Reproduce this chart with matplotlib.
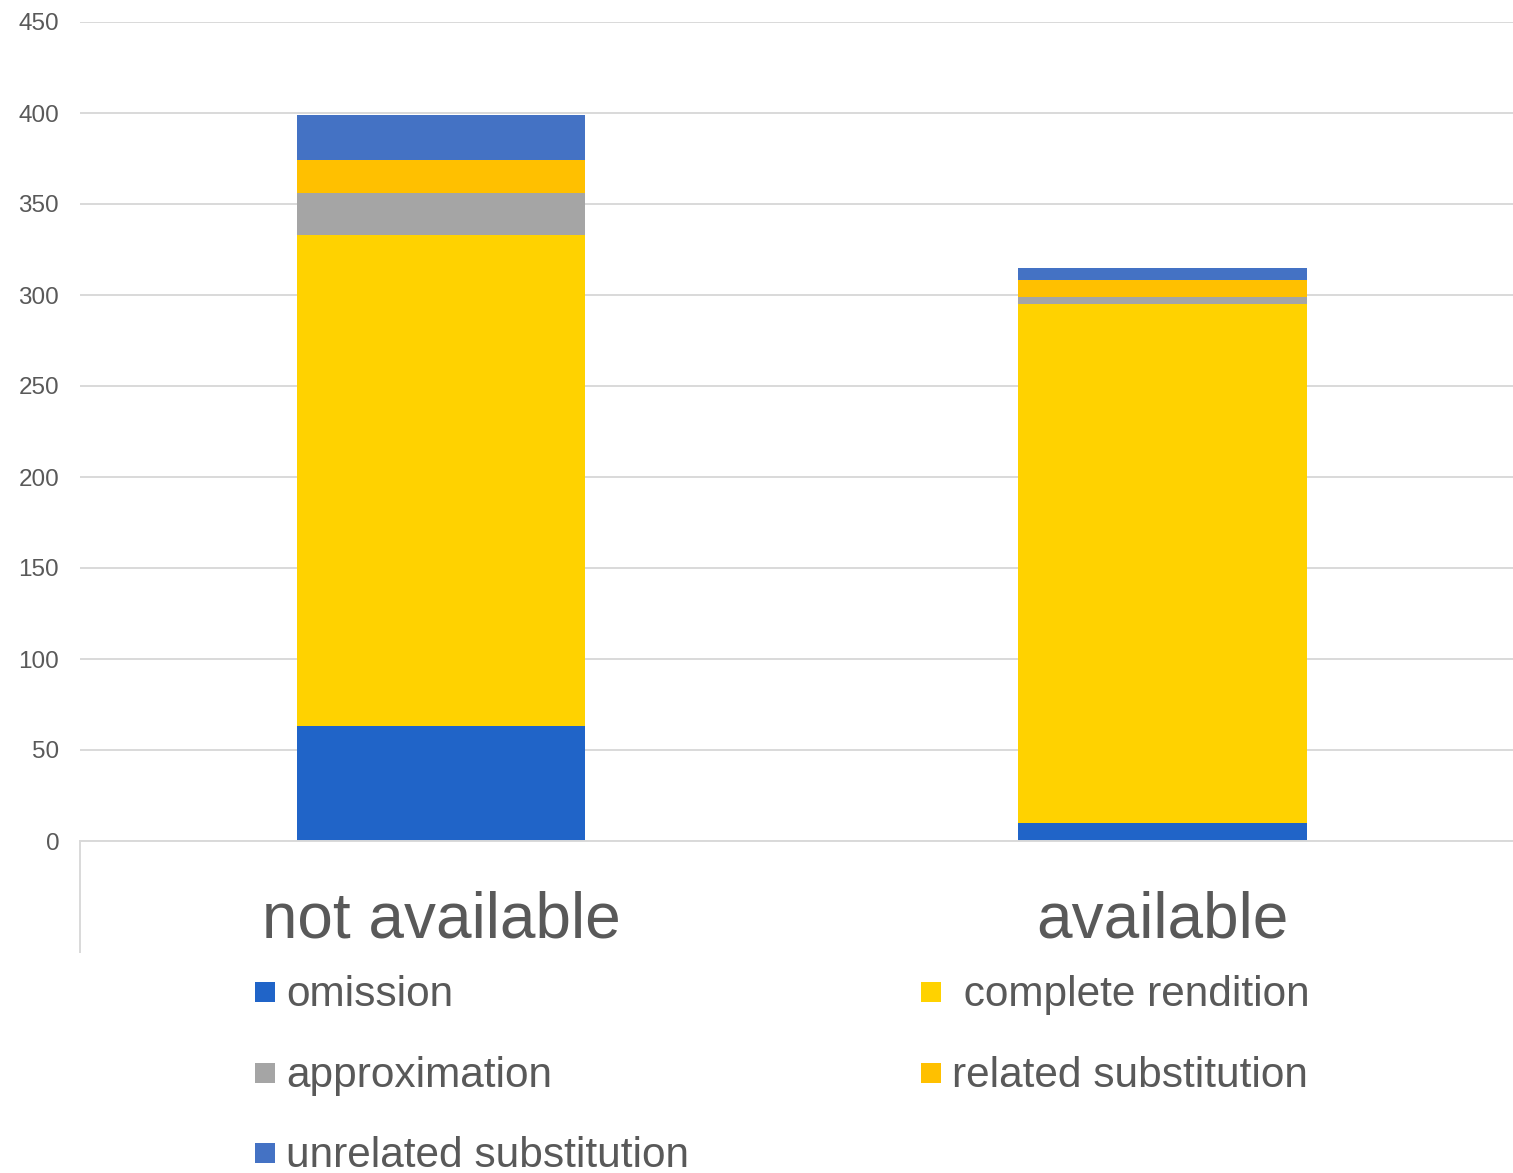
import matplotlib
matplotlib.use("Agg")
import matplotlib.pyplot as plt
from matplotlib.patches import Rectangle
import numpy as np

plt.rcParams['font.family'] = ['Liberation Sans', 'DejaVu Sans']

categories = ["not available", "available"]
series_names = ["omission", "complete rendition", "approximation",
                "related substitution", "unrelated substitution"]
omission = [63, 10]
complete_rendition = [270, 285]
approximation = [23, 4]
related_substitution = [18, 9]
unrelated_substitution = [25, 7]
y_ticks = [0, 50, 100, 150, 200, 250, 300, 350, 400, 450]

colors = ["#2064C8", "#FFD200", "#A5A5A5", "#FFC000", "#4472C4"]
text_color = "#595959"
grid_color = "#D9D9D9"

W, H = 1513, 1173
fig = plt.figure(figsize=(W / 100, H / 100), dpi=100)

def px_box(x0, y0, x1, y1):
    return [x0 / W, 1 - y1 / H, (x1 - x0) / W, (y1 - y0) / H]

ax = fig.add_axes(px_box(80, 22, 1513, 841))

x = np.arange(len(categories))
stack = [omission, complete_rendition, approximation,
         related_substitution, unrelated_substitution]
bottom = np.zeros(len(categories))
for vals, c, name in zip(stack, colors, series_names):
    ax.bar(x, vals, width=0.4, bottom=bottom, color=c, label=name, zorder=3)
    bottom += np.array(vals)

ax.set_xlim(-0.5, 1.485)
ax.set_ylim(0, 450)
ax.set_yticks(y_ticks)
ax.set_yticklabels([str(t) for t in y_ticks], fontsize=17.5, color=text_color)
ax.tick_params(axis='y', length=0, pad=15)
ax.set_xticks(x)
ax.set_xticklabels(categories, fontsize=46, color=text_color)
ax.tick_params(axis='x', length=0, pad=36)

ax.yaxis.grid(True, color=grid_color, linewidth=1.4, zorder=0)
ax.set_axisbelow(True)
for side in ["top", "right", "left"]:
    ax.spines[side].set_visible(False)
ax.spines["bottom"].set_color(grid_color)
ax.spines["bottom"].set_linewidth(1.4)
ax.spines["bottom"].set_zorder(4)

# left edge line of the category axis area
fig.add_artist(plt.Line2D([80 / W, 80 / W], [1 - 841 / H, 1 - 952 / H],
                          color=grid_color, linewidth=1.4))

# legend entries laid out in two columns
legend_layout = [
    (0, 255, 286, 992, ""),
    (1, 921, 952, 992, " "),
    (2, 255, 286, 1073, ""),
    (3, 921, 952, 1073, ""),
    (4, 255, 286, 1153, ""),
]
for idx, mx, tx, cy, prefix in legend_layout:
    fig.add_artist(Rectangle((mx / W, 1 - (cy + 10) / H), 20 / W, 20 / H,
                             transform=fig.transFigure,
                             facecolor=colors[idx], edgecolor="none"))
    fig.text(tx / W, 1 - (cy + 3) / H, prefix + series_names[idx], fontsize=30.5,
             color=text_color, va="center", ha="left")

fig.savefig("out.png", dpi=100)
